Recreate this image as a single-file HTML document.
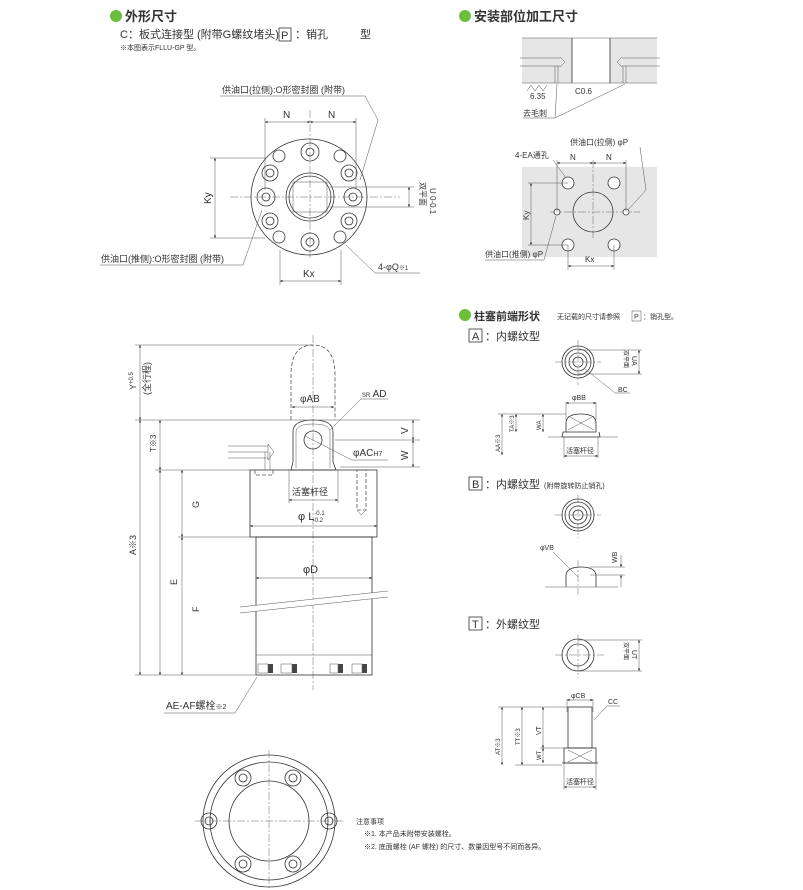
<!DOCTYPE html>
<html><head><meta charset="utf-8"><style>
body{margin:0;background:#fff;}
svg{display:block;font-family:"Liberation Sans","Noto Sans CJK SC",sans-serif;}
.l{stroke:#333;stroke-width:0.8;fill:none}
.t{stroke:#555;stroke-width:0.5;fill:none}
.c{stroke:#666;stroke-width:0.5;fill:none;stroke-dasharray:8 2 2 2}
.d{stroke:#555;stroke-width:0.8;fill:none;stroke-dasharray:4 2}
text{fill:#333}
</style></head><body>
<svg width="803" height="890" viewBox="0 0 803 890" xmlns="http://www.w3.org/2000/svg">
<defs><marker id="a" viewBox="0 0 6 6" refX="6" refY="3" markerWidth="5" markerHeight="5" orient="auto-start-reverse"><path d="M0,0L6,3L0,6z" fill="#333"/></marker></defs>

<!-- Titles -->
<circle cx="116" cy="16" r="6" fill="#6cbf3a"/>
<text x="125" y="21" font-size="13" font-weight="bold">外形尺寸</text>
<text x="120" y="38" font-size="11">C：板式连接型 (附带G螺纹堵头)</text>
<rect x="279" y="28" width="12" height="13" class="l"/><text x="281" y="39" font-size="11">P</text>
<text x="295" y="38" font-size="11">：销孔</text>
<text x="360" y="38" font-size="11">型</text>
<text x="120" y="50" font-size="7">※本图表示FLLU-GP 型。</text>

<circle cx="465" cy="16" r="6" fill="#6cbf3a"/>
<text x="474" y="21" font-size="13" font-weight="bold">安装部位加工尺寸</text>

<!-- Top view flange -->
<g>
<circle cx="309" cy="197" r="58" class="l"/>
<line x1="230" y1="197" x2="400" y2="197" class="c"/>
<line x1="310" y1="110" x2="310" y2="260" class="c"/>
<circle cx="310" cy="197" r="24" class="l"/><circle cx="310" cy="197" r="21" class="l"/>
<rect x="293" y="182" width="34" height="30" class="t"/>
<g class="l">
<circle cx="310" cy="152" r="9"/><circle cx="310" cy="152" r="4"/>
<circle cx="310" cy="242" r="9"/><circle cx="310" cy="242" r="4"/>
<circle cx="266" cy="197" r="9"/><circle cx="266" cy="197" r="4"/>
<circle cx="353" cy="197" r="9"/><circle cx="353" cy="197" r="4"/>
<circle cx="270" cy="173" r="8"/><circle cx="270" cy="173" r="4"/>
<circle cx="349" cy="173" r="8"/><circle cx="349" cy="173" r="4"/>
<circle cx="270" cy="221" r="8"/><circle cx="270" cy="221" r="4"/>
<circle cx="349" cy="221" r="8"/><circle cx="349" cy="221" r="4"/>
<circle cx="279" cy="156" r="6"/><circle cx="340" cy="156" r="6"/>
<circle cx="279" cy="237" r="6"/><circle cx="340" cy="237" r="6"/>
</g>
<line x1="265" y1="118" x2="265" y2="190" class="t"/><line x1="356" y1="118" x2="356" y2="190" class="t"/>
<line x1="265" y1="122" x2="310" y2="122" class="t" marker-start="url(#a)" marker-end="url(#a)"/>
<line x1="310" y1="122" x2="356" y2="122" class="t" marker-start="url(#a)" marker-end="url(#a)"/>
<text x="283" y="118" font-size="10">N</text><text x="328" y="118" font-size="10">N</text>
<line x1="210" y1="158" x2="265" y2="158" class="t"/><line x1="210" y1="238" x2="265" y2="238" class="t"/>
<line x1="215" y1="158" x2="215" y2="238" class="t" marker-start="url(#a)" marker-end="url(#a)"/>
<text x="0" y="0" font-size="10" transform="translate(211,204) rotate(-90)">Ky</text>
<line x1="280" y1="250" x2="280" y2="285" class="t"/><line x1="341" y1="250" x2="341" y2="285" class="t"/>
<line x1="280" y1="281" x2="341" y2="281" class="t" marker-start="url(#a)" marker-end="url(#a)"/>
<text x="303" y="277" font-size="10">Kx</text>
<line x1="330" y1="187" x2="414" y2="187" class="t"/><line x1="330" y1="207" x2="414" y2="207" class="t"/>
<line x1="409" y1="187" x2="409" y2="207" class="t" marker-start="url(#a)" marker-end="url(#a)"/>
<text font-size="8" transform="translate(420,182) rotate(90)">双平面</text>
<text font-size="8" transform="translate(430,188) rotate(90)">U 0-0.1</text>
<text x="222" y="93" font-size="9">供油口(拉侧):O形密封圈 (附带)</text>
<polyline points="220,96 365,96 378,120 360,180" class="t"/>
<text x="101" y="262" font-size="9">供油口(推侧):O形密封圈 (附带)</text>
<polyline points="100,265 243,265 262,210" class="t"/>
<text x="378" y="270" font-size="9">4-φQ<tspan font-size="6">※1</tspan></text>
<polyline points="420,273 375,273 346,245" class="t"/>
</g>

<!-- Side view -->
<g>
<line x1="313" y1="335" x2="313" y2="690" class="c"/>
<path d="M291,420 L291,375 Q291,345 313,345 Q335,345 335,375 L335,420" class="d"/>
<path d="M291,470 L293,462 L293,432 Q293,420 313,420 Q333,420 333,432 L333,462 L336,470 Z" class="l"/>
<path d="M296,468 L296,432 Q296,424 313,424 Q330,424 330,432 L330,468" class="t"/>
<circle cx="313" cy="440" r="9" class="l"/>
<rect x="250" y="470" width="127" height="67" class="l"/>
<rect x="256" y="537" width="116" height="138" class="l"/>
<line x1="256" y1="655" x2="372" y2="655" class="t"/>
<g fill="#444"><rect x="268" y="664" width="5" height="9"/><rect x="292" y="664" width="5" height="9"/><rect x="338" y="664" width="5" height="9"/><rect x="362" y="664" width="5" height="9"/></g>
<g class="t"><rect x="258" y="664" width="10" height="9"/><rect x="281" y="664" width="11" height="9"/><rect x="330" y="664" width="8" height="9"/><rect x="352" y="664" width="10" height="9"/></g>
<line x1="240" y1="610" x2="388" y2="594" stroke="#fff" stroke-width="6"/>
<line x1="240" y1="607" x2="388" y2="591" class="t"/><line x1="240" y1="613" x2="388" y2="597" class="t"/>
<line x1="228" y1="446" x2="268" y2="446" class="t"/><line x1="228" y1="452" x2="268" y2="452" class="t"/><line x1="228" y1="458" x2="268" y2="458" class="t"/>
<path d="M268,444 L274,452 L268,460 Z" class="t"/><line x1="265" y1="452" x2="265" y2="470" class="t"/><line x1="270" y1="452" x2="270" y2="470" class="t"/>
<rect x="255" y="470" width="18" height="5" class="d"/>
<rect x="357" y="470" width="9" height="40" class="d"/><path d="M357,510 L361,515 L366,510" class="t"/>
<!-- dims -->
<line x1="135" y1="345" x2="313" y2="345" class="t"/>
<line x1="135" y1="420" x2="420" y2="420" class="t"/>
<line x1="155" y1="470" x2="250" y2="470" class="t"/>
<line x1="178" y1="537" x2="250" y2="537" class="t"/>
<line x1="135" y1="675" x2="256" y2="675" class="t"/>
<line x1="140" y1="345" x2="140" y2="420" class="t" marker-start="url(#a)" marker-end="url(#a)"/>
<line x1="140" y1="420" x2="140" y2="675" class="t" marker-start="url(#a)" marker-end="url(#a)"/>
<line x1="160" y1="420" x2="160" y2="470" class="t" marker-start="url(#a)" marker-end="url(#a)"/>
<line x1="160" y1="470" x2="160" y2="675" class="t" marker-start="url(#a)" marker-end="url(#a)"/>
<line x1="182" y1="470" x2="182" y2="537" class="t" marker-start="url(#a)" marker-end="url(#a)"/>
<line x1="182" y1="537" x2="182" y2="675" class="t" marker-start="url(#a)" marker-end="url(#a)"/>
<text font-size="9" transform="translate(136,390) rotate(-90)">Y<tspan font-size="6" dy="-3">+0.5</tspan></text>
<text font-size="9" transform="translate(150,395) rotate(-90)">(全行程)</text>
<text font-size="8" transform="translate(156,452) rotate(-90)">T※3</text>
<text font-size="9" transform="translate(136,555) rotate(-90)">A※3</text>
<text font-size="9" transform="translate(177,585) rotate(-90)">E</text>
<text font-size="9" transform="translate(199,508) rotate(-90)">G</text>
<text font-size="9" transform="translate(199,612) rotate(-90)">F</text>
<line x1="335" y1="440" x2="420" y2="440" class="t"/><line x1="340" y1="467" x2="420" y2="467" class="t"/>
<line x1="413" y1="420" x2="413" y2="440" class="t" marker-start="url(#a)" marker-end="url(#a)"/>
<line x1="413" y1="440" x2="413" y2="467" class="t" marker-start="url(#a)" marker-end="url(#a)"/>
<text font-size="10" transform="translate(408,434) rotate(-90)">V</text>
<text font-size="10" transform="translate(408,460) rotate(-90)">W</text>
<line x1="292" y1="407" x2="334" y2="407" class="t" marker-start="url(#a)" marker-end="url(#a)"/>
<text x="300" y="402" font-size="10">φAB</text>
<text x="362" y="397" font-size="10"><tspan font-size="6">SR</tspan> AD</text>
<polyline points="388,399 361,399 330,430" class="t"/>
<text x="353" y="456" font-size="10">φAC<tspan font-size="7">H7</tspan></text>
<polyline points="388,460 352,460 305,436" class="t"/>
<line x1="289" y1="470" x2="289" y2="503" class="t"/><line x1="338" y1="470" x2="338" y2="503" class="t"/>
<line x1="289" y1="500" x2="338" y2="500" class="t" marker-start="url(#a)" marker-end="url(#a)"/>
<text x="292" y="495" font-size="9">活塞杆径</text>
<text x="298" y="520" font-size="11">φ L<tspan font-size="6" dy="-5">-0.1</tspan><tspan font-size="6" dx="-12" dy="7">-0.2</tspan></text>
<line x1="250" y1="526" x2="377" y2="526" class="t" marker-start="url(#a)" marker-end="url(#a)"/>
<text x="303" y="573" font-size="11">φD</text>
<line x1="256" y1="578" x2="372" y2="578" class="t" marker-start="url(#a)" marker-end="url(#a)"/>
<text x="166" y="709" font-size="10">AE-AF螺栓<tspan font-size="7">※2</tspan></text>
<polyline points="164,713 235,713 257,677" class="t"/>
</g>

<!-- Bottom view -->
<g>
<circle cx="269" cy="821" r="66" class="l"/><circle cx="269" cy="821" r="59" class="l"/>
<circle cx="269" cy="821" r="40" class="l"/>
<line x1="195" y1="821" x2="343" y2="821" class="c"/><line x1="269" y1="750" x2="269" y2="890" class="c"/>
<g class="l">
<circle cx="209" cy="821" r="8"/><circle cx="209" cy="821" r="4"/>
<circle cx="329" cy="821" r="8"/><circle cx="329" cy="821" r="4"/>
<circle cx="243" cy="778" r="8"/><circle cx="243" cy="778" r="4"/>
<circle cx="293" cy="778" r="8"/><circle cx="293" cy="778" r="4"/>
<circle cx="243" cy="864" r="8"/><circle cx="243" cy="864" r="4"/>
<circle cx="293" cy="864" r="8"/><circle cx="293" cy="864" r="4"/>
</g>
<text x="356" y="824" font-size="7">注意事项</text>
<text x="364" y="836" font-size="7">※1. 本产品未附带安装螺栓。</text>
<text x="364" y="849" font-size="7">※2. 底面螺栓 (AF 螺栓) 的尺寸、数量因型号不同而各异。</text>
</g>

<!-- Mounting section -->
<g>
<rect x="522" y="38" width="135" height="45" fill="#e6e6e6"/>
<rect x="572" y="38" width="38" height="45" fill="#fff"/>
<line x1="522" y1="38" x2="657" y2="38" class="t"/><line x1="522" y1="83" x2="657" y2="83" class="t"/>
<line x1="572" y1="38" x2="572" y2="83" class="l"/><line x1="610" y1="38" x2="610" y2="83" class="l"/>
<line x1="520" y1="58" x2="560" y2="58" class="t"/><line x1="520" y1="66" x2="560" y2="66" class="t"/>
<path d="M560,57 L565,62 L560,67" class="t"/>
<line x1="660" y1="58" x2="622" y2="58" class="t"/><line x1="660" y1="66" x2="622" y2="66" class="t"/>
<path d="M622,57 L617,62 L622,67" class="t"/>
<line x1="555" y1="66" x2="555" y2="83" class="t"/><line x1="558" y1="66" x2="558" y2="83" class="t"/>
<line x1="623" y1="66" x2="623" y2="83" class="t"/><line x1="626" y1="66" x2="626" y2="83" class="t"/>
<path d="M527,91 L531,85 L535,91 L539,85 L543,91 L547,85" class="t"/>
<text x="530" y="99" font-size="8">6.35</text><text x="575" y="94" font-size="8">C0.6</text>
<text x="523" y="116" font-size="8">去毛刺</text>
<polyline points="523,118 555,118 557,84" class="t"/><line x1="555" y1="118" x2="625" y2="84" class="t"/>
<rect x="522" y="167" width="135" height="90" fill="#e6e6e6"/>
<circle cx="593" cy="212" r="20" fill="#fff" class="l"/>
<line x1="550" y1="212" x2="640" y2="212" class="c"/><line x1="593" y1="160" x2="593" y2="240" class="c"/>
<g class="l" fill="#fff">
<circle cx="568" cy="183" r="6" fill="#fff"/><circle cx="614" cy="183" r="6" fill="#fff"/>
<circle cx="568" cy="245" r="6" fill="#fff"/><circle cx="614" cy="245" r="6" fill="#fff"/>
<circle cx="557" cy="212" r="3" fill="#fff"/><circle cx="626" cy="212" r="3" fill="#fff"/>
</g>
<line x1="557" y1="160" x2="557" y2="212" class="t"/><line x1="626" y1="160" x2="626" y2="212" class="t"/>
<line x1="557" y1="163" x2="593" y2="163" class="t" marker-start="url(#a)" marker-end="url(#a)"/>
<line x1="593" y1="163" x2="626" y2="163" class="t" marker-start="url(#a)" marker-end="url(#a)"/>
<text x="570" y="160" font-size="8">N</text><text x="606" y="160" font-size="8">N</text>
<line x1="528" y1="183" x2="568" y2="183" class="t"/><line x1="528" y1="245" x2="568" y2="245" class="t"/>
<line x1="531" y1="183" x2="531" y2="245" class="t" marker-start="url(#a)" marker-end="url(#a)"/>
<text font-size="8" transform="translate(529,220) rotate(-90)">Ky</text>
<line x1="568" y1="245" x2="568" y2="270" class="t"/><line x1="614" y1="245" x2="614" y2="270" class="t"/>
<line x1="568" y1="266" x2="614" y2="266" class="t" marker-start="url(#a)" marker-end="url(#a)"/>
<text x="585" y="262" font-size="8">Kx</text>
<text x="515" y="158" font-size="8">4-EA通孔</text><line x1="553" y1="160" x2="566" y2="178" class="t"/>
<text x="570" y="145" font-size="8">供油口(拉侧) φP</text><line x1="640" y1="147" x2="646" y2="190" class="t"/><line x1="646" y1="190" x2="628" y2="210" class="t"/>
<text x="485" y="257" font-size="8">供油口(推侧) φP</text><polyline points="485,260 544,260 556,216" class="t"/>
</g>

<!-- Plunger tip -->
<g>
<circle cx="465" cy="315" r="6" fill="#6cbf3a"/>
<text x="474" y="320" font-size="11" font-weight="bold">柱塞前端形状</text>
<text x="557" y="319" font-size="7">无记载的尺寸请参照</text>
<rect x="632" y="311" width="9" height="10" class="t"/><text x="634" y="319" font-size="7">P</text>
<text x="643" y="319" font-size="7">：销孔型。</text>

<rect x="469" y="329" width="13" height="13" class="l"/><text x="472" y="340" font-size="11">A</text>
<text x="485" y="340" font-size="11">：内螺纹型</text>
<g class="l"><circle cx="578" cy="362" r="16"/><circle cx="578" cy="362" r="13"/><circle cx="578" cy="362" r="9"/><circle cx="578" cy="362" r="5"/></g>
<line x1="555" y1="362" x2="601" y2="362" class="c"/><line x1="578" y1="340" x2="578" y2="385" class="c"/>
<line x1="578" y1="350" x2="642" y2="350" class="t"/><line x1="578" y1="374" x2="642" y2="374" class="t"/>
<line x1="639" y1="350" x2="639" y2="374" class="t" marker-start="url(#a)" marker-end="url(#a)"/>
<text font-size="6" transform="translate(624,350) rotate(90)">双平面</text><text font-size="7" transform="translate(632,356) rotate(90)">UA</text>
<polyline points="584,368 615,393 630,393" class="t"/><text x="618" y="392" font-size="7">BC</text>
<line x1="566" y1="402" x2="566" y2="420" class="t"/><line x1="596" y1="402" x2="596" y2="420" class="t"/>
<line x1="566" y1="403" x2="596" y2="403" class="t" marker-start="url(#a)" marker-end="url(#a)"/>
<text x="572" y="400" font-size="7">φBB</text>
<path d="M566,432 L566,422 Q567,414 581,414 Q595,414 596,422 L596,432 L563,432 L562,437 L600,437 L599,432" class="l"/>
<path d="M568,416 L594,430 M568,430 L594,416" class="t"/>
<line x1="548" y1="437" x2="618" y2="437" class="t"/>
<line x1="498" y1="414" x2="566" y2="414" class="t"/>
<line x1="502" y1="414" x2="502" y2="455" class="t" marker-start="url(#a)" marker-end="url(#a)"/>
<line x1="516" y1="414" x2="516" y2="432" class="t" marker-start="url(#a)" marker-end="url(#a)"/>
<line x1="543" y1="414" x2="543" y2="432" class="t" marker-start="url(#a)" marker-end="url(#a)"/>
<text font-size="6" transform="translate(500,452) rotate(-90)">AA※3</text>
<text font-size="6" transform="translate(514,432) rotate(-90)">TA※3</text>
<text font-size="6" transform="translate(541,430) rotate(-90)">WA</text>
<line x1="564" y1="437" x2="564" y2="458" class="t"/><line x1="598" y1="437" x2="598" y2="458" class="t"/>
<line x1="564" y1="456" x2="598" y2="456" class="t" marker-start="url(#a)" marker-end="url(#a)"/>
<text x="566" y="453" font-size="7">活塞杆径</text>

<rect x="469" y="477" width="13" height="13" class="l"/><text x="472" y="488" font-size="11">B</text>
<text x="485" y="488" font-size="11">：内螺纹型</text><text x="544" y="488" font-size="7">(附带旋转防止销孔)</text>
<g class="l"><circle cx="578" cy="515" r="16"/><circle cx="578" cy="515" r="13"/><circle cx="578" cy="515" r="9"/><circle cx="578" cy="515" r="5"/></g>
<line x1="555" y1="515" x2="601" y2="515" class="c"/><line x1="578" y1="495" x2="578" y2="538" class="c"/>
<path d="M566,587 L566,575 Q567,567 581,567 Q595,567 596,575 L596,587" class="l"/>
<line x1="545" y1="587" x2="618" y2="587" class="t"/>
<line x1="590" y1="567" x2="625" y2="567" class="t"/><line x1="590" y1="575" x2="625" y2="575" class="t"/>
<line x1="621" y1="555" x2="621" y2="567" class="t" marker-end="url(#a)"/><line x1="621" y1="587" x2="621" y2="575" class="t" marker-end="url(#a)"/>
<text font-size="7" transform="translate(617,563) rotate(-90)">WB</text>
<text x="540" y="550" font-size="7">φVB</text><line x1="553" y1="552" x2="578" y2="577" class="t"/>
<line x1="578" y1="560" x2="578" y2="595" class="c"/>

<rect x="469" y="617" width="13" height="13" class="l"/><text x="472" y="628" font-size="11">T</text>
<text x="485" y="628" font-size="11">：外螺纹型</text>
<g class="l"><circle cx="578" cy="655" r="16"/><circle cx="578" cy="655" r="11"/></g>
<line x1="555" y1="655" x2="604" y2="655" class="c"/><line x1="578" y1="635" x2="578" y2="678" class="c"/>
<line x1="578" y1="640" x2="642" y2="640" class="t"/><line x1="578" y1="671" x2="642" y2="671" class="t"/>
<line x1="639" y1="640" x2="639" y2="671" class="t" marker-start="url(#a)" marker-end="url(#a)"/>
<text font-size="6" transform="translate(624,642) rotate(90)">双平面</text><text font-size="7" transform="translate(632,650) rotate(90)">UT</text>
<line x1="567" y1="699" x2="567" y2="712" class="t"/><line x1="593" y1="699" x2="593" y2="712" class="t"/>
<line x1="567" y1="700" x2="593" y2="700" class="t" marker-start="url(#a)" marker-end="url(#a)"/>
<text x="571" y="698" font-size="7">φCB</text><text x="608" y="704" font-size="7">CC</text>
<polyline points="620,706 607,706 594,720" class="t"/>
<rect x="568" y="707" width="24" height="41" class="l"/>
<rect x="564" y="748" width="32" height="15" class="l"/>
<path d="M568,750 L592,762 M568,762 L592,750" class="t"/>
<line x1="562" y1="763" x2="598" y2="763" class="l"/>
<line x1="498" y1="707" x2="568" y2="707" class="t"/><line x1="515" y1="765" x2="562" y2="765" class="t"/>
<line x1="502" y1="707" x2="502" y2="765" class="t" marker-start="url(#a)" marker-end="url(#a)"/>
<line x1="522" y1="707" x2="522" y2="765" class="t" marker-start="url(#a)" marker-end="url(#a)"/>
<line x1="543" y1="707" x2="543" y2="748" class="t" marker-start="url(#a)" marker-end="url(#a)"/>
<line x1="543" y1="748" x2="543" y2="763" class="t" marker-start="url(#a)" marker-end="url(#a)"/>
<line x1="540" y1="748" x2="568" y2="748" class="t"/>
<text font-size="6" transform="translate(500,755) rotate(-90)">AT※3</text>
<text font-size="6" transform="translate(520,745) rotate(-90)">TT※3</text>
<text font-size="7" transform="translate(541,735) rotate(-90)">VT</text>
<text font-size="6" transform="translate(541,760) rotate(-90)">WT</text>
<line x1="564" y1="763" x2="564" y2="790" class="t"/><line x1="596" y1="763" x2="596" y2="790" class="t"/>
<line x1="564" y1="787" x2="596" y2="787" class="t" marker-start="url(#a)" marker-end="url(#a)"/>
<text x="566" y="784" font-size="7">活塞杆径</text>
</g>
</svg>
</body></html>
